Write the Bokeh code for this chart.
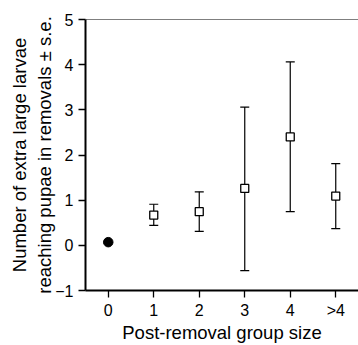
from bokeh.plotting import figure
from bokeh.models import ColumnDataSource, FixedTicker, Whisker, Span
from bokeh.embed import file_html
from bokeh.resources import INLINE

categories = ["0", "1", "2", "3", "4", ">4"]
cat_pos = [0, 1, 2, 3, 4, 5]
means = [0.07, 0.67, 0.745, 1.26, 2.40, 1.09]
upper = [None, 0.91, 1.185, 3.06, 4.06, 1.81]
lower = [None, 0.44, 0.31, -0.56, 0.745, 0.37]

FONT = "Liberation Sans"

p = figure(width=358, height=345, output_backend="svg", toolbar_location=None,
           x_range=(-0.5, 5.5), y_range=(-1, 5),
           min_border_left=85, min_border_right=0, min_border_top=19, min_border_bottom=53)
p.grid.visible = False
p.background_fill_color = "white"
p.border_fill_color = "white"
p.outline_line_color = None
p.add_layout(Span(location=5, dimension="width", line_color="black", line_width=1.2))

# error bars
eb_x = [cat_pos[i] for i in range(1, 6)]
eb_up = [upper[i] for i in range(1, 6)]
eb_lo = [lower[i] for i in range(1, 6)]
src_eb = ColumnDataSource(dict(x=eb_x, upper=eb_up, lower=eb_lo))
w = Whisker(source=src_eb, base="x", upper="upper", lower="lower",
            line_color="black", line_width=1.2)
w.upper_head.size = 9
w.lower_head.size = 9
w.upper_head.line_width = 1.2
w.lower_head.line_width = 1.2
p.add_layout(w)

p.scatter([cat_pos[0]], [means[0]], marker="circle", size=9.5, fill_color="black", line_color="black")
p.scatter(cat_pos[1:], means[1:], marker="square", size=8, fill_color="white",
          line_color="black", line_width=1.3)

p.xaxis.ticker = FixedTicker(ticks=cat_pos)
p.xaxis.major_label_overrides = {i: c for i, c in zip(cat_pos, categories)}
p.yaxis.ticker = FixedTicker(ticks=[-1, 0, 1, 2, 3, 4, 5])
p.yaxis.major_label_overrides = {-1: "\u22121"}

for ax in (p.xaxis[0], p.yaxis[0]):
    ax.axis_line_width = 2
    ax.axis_line_color = "black"
    ax.major_tick_line_width = 1.3
    ax.major_tick_in = 0
    ax.major_tick_out = 7
    ax.minor_tick_line_color = None
    ax.major_label_text_font = FONT
    ax.major_label_text_font_size = "16px"
    ax.major_label_text_color = "black"
    ax.axis_label_text_font = FONT
    ax.axis_label_text_font_size = "18.5px"
    ax.axis_label_text_font_style = "normal"
    ax.axis_label_text_color = "black"

p.xaxis.axis_label = "Post-removal group size"
p.yaxis.axis_label = "Number of extra large larvae\nreaching pupae in removals \u00b1 s.e."
p.xaxis.major_label_standoff = 4
p.yaxis.major_label_standoff = 5
p.xaxis.axis_label_standoff = 0
p.yaxis.axis_label_standoff = -3

open("out.html", "w").write(file_html(p, INLINE))
